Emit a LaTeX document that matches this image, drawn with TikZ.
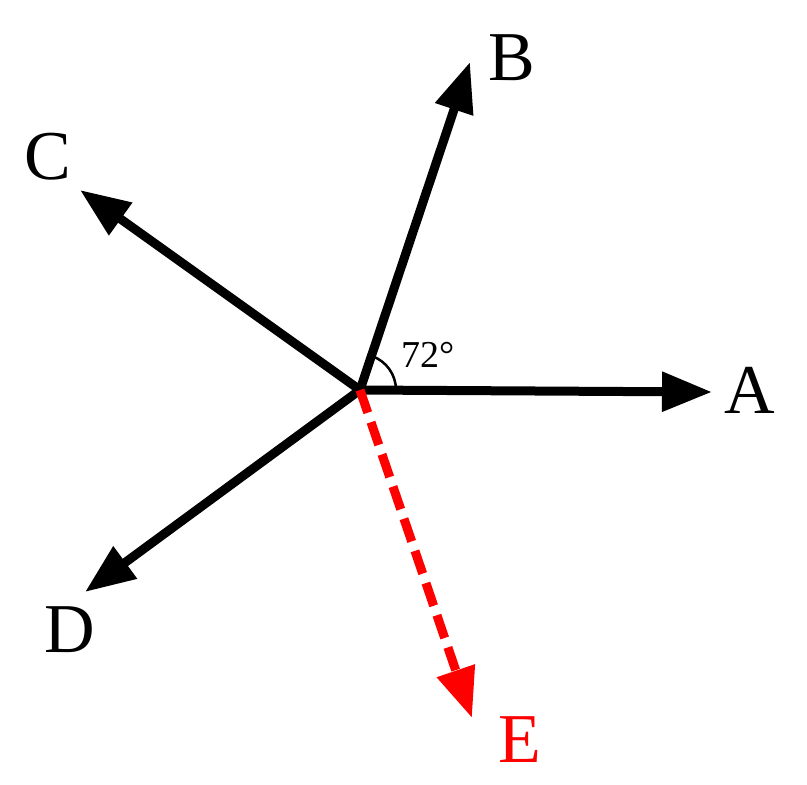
\documentclass[tikz,border=0pt]{standalone}
\usepackage{fontspec}
\setmainfont{Liberation Serif}
\usetikzlibrary{arrows.meta}
\begin{document}
\begin{tikzpicture}[x=1pt,y=-1pt,
  vec/.style={line width=9pt,-{Triangle[length=50pt,width=38pt]}},
  lbl/.style={font=\fontsize{70}{70}\selectfont,inner sep=0pt}]
\useasboundingbox (0,0) rectangle (807,785);
\coordinate (O) at (360,390);
\coordinate (A) at (712,392);
\coordinate (B) at (470,62);
\coordinate (C) at (80,190);
\coordinate (D) at (85,592);
\coordinate (E) at (472,718);
\draw[vec] (O) -- (A);
\draw[vec] (O) -- (B);
\draw[vec] (O) -- (C);
\draw[vec] (O) -- (D);
\draw[vec,red,dash pattern=on 24pt off 10pt] (O) -- (E);
\draw[line width=2.5pt] (396,390) arc[start angle=0,end angle=-71,radius=36];
\node[lbl] (la) at (750,390) {A};
\node[lbl] (lb) at (512,58) {B};
\node[lbl] (lc) at (48,157) {C};
\node[lbl] (ld) at (70,630) {D};
\node[lbl,red] (le) at (520,740) {E};
\node[font=\fontsize{38}{38}\selectfont,inner sep=0pt] (ang) at (428,355) {72°};
\end{tikzpicture}
\end{document}
